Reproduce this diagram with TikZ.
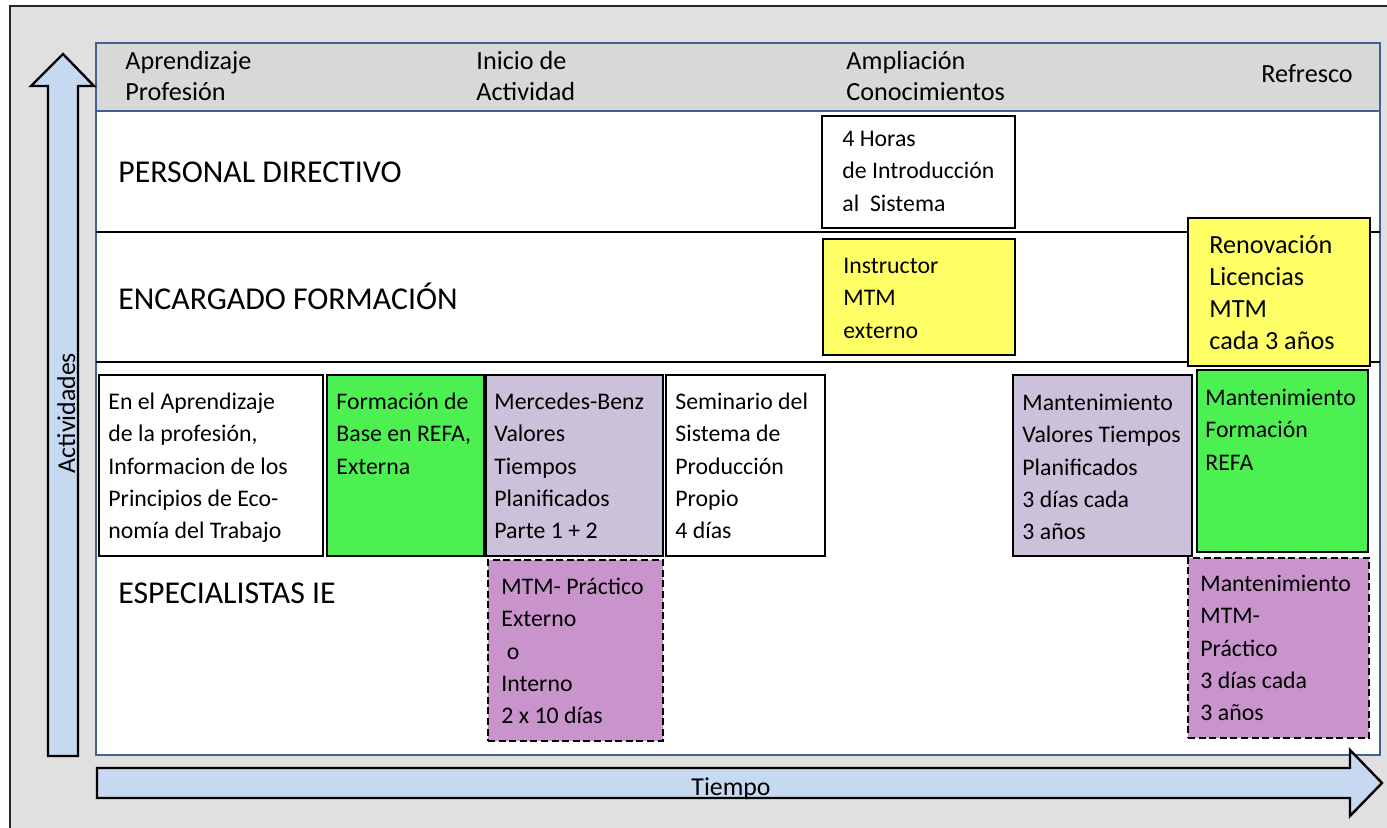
\documentclass[tikz,border=0pt]{standalone}
\usepackage{fontspec}
\setmainfont{Carlito}
\usetikzlibrary{fit}
\definecolor{bgGray}{HTML}{E0E0E0}
\definecolor{hdrGray}{HTML}{D8D8D8}
\definecolor{panelBlue}{HTML}{41628F}
\definecolor{arrowBlue}{HTML}{C6D9F1}
\definecolor{boxGreen}{HTML}{4CF050}
\definecolor{boxLav}{HTML}{CCC1DA}
\definecolor{boxPurple}{HTML}{C994CC}
\definecolor{boxYellow}{HTML}{FFFF66}
\newcommand\fsSmall{\fontsize{11.9}{16.2}\selectfont}
\newcommand\fsMid{\fontsize{13.1}{16}\selectfont}
\newcommand\fsHdr{\fontsize{13.1}{15.75}\selectfont}
\newcommand\fsBig{\fontsize{15.9}{19}\selectfont}
\begin{document}
\begin{tikzpicture}[x=0.5pt,y=-0.5pt,
  box/.style={draw=black, line width=1.3pt, inner sep=0pt},
  dbox/.style={box, dash pattern=on 3.5pt off 1.8pt},
  txt/.style={anchor=north west, inner sep=0pt, align=left, font=\fsSmall},
  hdr/.style={anchor=north west, inner sep=0pt, align=left, font=\fsHdr},
  lbl/.style={anchor=base west, inner sep=0pt, font=\fsBig},
  rowline/.style={draw=black, line width=1pt},
  bigarrow/.style={draw=black, line width=1.2pt, fill=arrowBlue, line join=miter}]
\useasboundingbox (0,0) rectangle (1387,828);
\fill[white] (0,0) rectangle (1387,828);
% outer frame
\draw[fill=bgGray, draw=black!85, line width=1pt] (10,6) rectangle (1400,845);
% panel
\draw[fill=white, draw=panelBlue, line width=1.3pt] (96,43) rectangle (1380,755);
\draw[fill=hdrGray, draw=panelBlue, line width=1.3pt] (96,43) rectangle (1380,111);
% header texts
\node[hdr] (h1) at (125,47) {\strut Aprendizaje\\Profesión};
\node[hdr] (h2) at (476,47) {\strut Inicio de\\Actividad};
\node[hdr] (h3) at (846,47) {\strut Ampliación\\Conocimientos};
\node[anchor=base west, inner sep=0pt, font=\fsHdr] (h4) at (1261,83) {Refresco};
% row lines
\coordinate (r1a) at (96,232); \coordinate (r1b) at (1380,232);
\coordinate (r2a) at (96,362); \coordinate (r2b) at (1380,362);
\draw[rowline] (r1a) -- (r1b);
\draw[rowline] (r2a) -- (r2b);
% row labels
\node[lbl] (l1) at (118,183) {PERSONAL DIRECTIVO};
\node[lbl] (l2) at (118,310) {ENCARGADO FORMACIÓN};
\node[lbl] (l3) at (118,603) {ESPECIALISTAS IE};
% boxes
\node[box, fill=white, fit={(822,116) (1015,228)}] (bHoras) {};
\node[box, fill=boxYellow, fit={(823,239) (1015,355)}] (bInstr) {};
\node[box, fill=boxYellow, fit={(1188,218) (1370,366)}] (bRenov) {};
\node[box, fill=white, fit={(99,375) (323,556)}] (bAprend) {};
\node[box, fill=boxGreen, fit={(327,375) (484,556)}] (bRefa) {};
\node[box, fill=boxLav, fit={(486,375) (663,556)}] (bMB) {};
\node[box, fill=white, fit={(666,375) (825,556)}] (bSem) {};
\node[box, fill=boxLav, fit={(1013,375) (1192,556)}] (bMantV) {};
\node[box, fill=boxGreen, fit={(1197,370) (1368,552)}] (bMantR) {};
\node[dbox, fill=boxPurple, fit={(488,560) (663,741)}] (bMTM) {};
\node[dbox, fill=boxPurple, fit={(1188,558) (1369,738)}] (bMantM) {};
% box texts
\node[txt] (tHoras) at (842,123.3) {\strut 4 Horas\\de Introducción\\al\ \ Sistema};
\node[txt] (tInstr) at (843,250.3) {\strut Instructor\\MTM\\externo};
\node[txt, font=\fsMid] (tRenov) at (1209,230.6) {\strut Renovación\\Licencias\\MTM\\cada 3 años};
\node[txt] (tAprend) at (108,386.3) {\strut En el Aprendizaje\\de la profesión,\\Informacion de los\\Principios de Eco-\\nomía del Trabajo};
\node[txt] (tRefa) at (336,386.3) {\strut Formación de\\Base en REFA,\\Externa};
\node[txt] (tMB) at (494,386.3) {\strut Mercedes-Benz\\Valores\\Tiempos\\Planificados\\Parte 1 + 2};
\node[txt] (tSem) at (675,386.3) {\strut Seminario del\\Sistema de\\Producción\\Propio\\4 días};
\node[txt] (tMantV) at (1022,387.3) {\strut Mantenimiento\\Valores Tiempos\\Planificados\\3 días cada\\3 años};
\node[txt] (tMantR) at (1205,382.3) {\strut Mantenimiento\\Formación\\REFA};
\node[txt] (tMTM) at (501,571.3) {\strut MTM- Práctico\\Externo\\\ o\\Interno\\2 x 10 días};
\node[txt] (tMantM) at (1200,568.3) {\strut Mantenimiento\\MTM-\\Práctico\\3 días cada\\3 años};
% arrows
\draw[bigarrow] (48,756) -- (48,86) -- (31,86) -- (63,54) -- (94,86) -- (78,86) -- (78,756) -- cycle;
\draw[bigarrow] (97,768) -- (1350,768) -- (1350,750) -- (1382,783) -- (1350,816) -- (1350,798) -- (97,798) -- cycle;
\node[rotate=90, anchor=base, inner sep=0pt, font=\fontsize{12.9}{15}\selectfont] (tAct) at (75,413) {Actividades};
\node[anchor=base, inner sep=0pt, font=\fontsize{12.9}{15}\selectfont] (tTiempo) at (731,795) {Tiempo};
\end{tikzpicture}
\end{document}
